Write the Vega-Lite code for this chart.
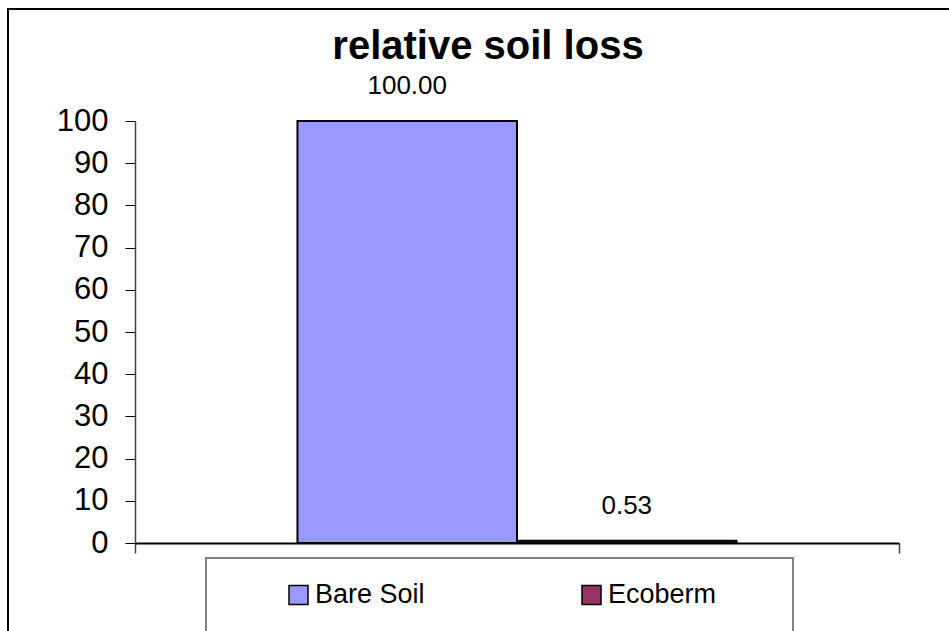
{
  "$schema": "https://vega.github.io/schema/vega-lite/v6.json",
  "width": 960,
  "height": 640,
  "padding": {"left": 8, "top": 9, "right": 0, "bottom": 0},
  "background": "white",
  "config": {
    "font": "Liberation Sans",
    "view": {"stroke": "black", "strokeWidth": 2},
    "axis": {"grid": false}
  },
  "title": {
    "text": "relative soil loss",
    "fontSize": 40,
    "fontWeight": "bold",
    "font": "Liberation Sans",
    "color": "black",
    "anchor": "middle",
    "baseline": "alphabetic",
    "offset": -90
  },
  "data": {
    "values": [
      {"series": "Bare Soil", "value": 100.0},
      {"series": "Ecoberm", "value": 0.53}
    ]
  },
  "layer": [
    {
      "encoding": {
        "x": {
          "field": "series",
          "type": "nominal",
          "scale": {"domain": ["Bare Soil", "Ecoberm"], "range": [127, 891], "paddingInner": 0, "paddingOuter": 0.74},
          "axis": null
        },
        "y": {
          "field": "value",
          "type": "quantitative",
          "scale": {"domain": [0, 100], "nice": false, "range": [534, 112]},
          "axis": {
            "values": [0, 10, 20, 30, 40, 50, 60, 70, 80, 90, 100],
            "offset": -127,
            "title": null,
            "labelFontSize": 31,
            "labelColor": "black",
            "labelFont": "Liberation Sans",
            "labelPadding": 17,
            "tickSize": 10,
            "tickColor": "black",
            "domainColor": "#404040",
            "domainWidth": 1.5,
            "labelFlush": false,
            "labelOverlap": false
          }
        }
      },
      "layer": [
        {
          "mark": {"type": "bar", "stroke": "black", "strokeWidth": 2},
          "encoding": {
            "color": {
              "field": "series",
              "type": "nominal",
              "scale": {"domain": ["Bare Soil", "Ecoberm"], "range": ["#9999FF", "#993366"]},
              "legend": {
                "orient": "none",
                "legendX": 198,
                "legendY": 549,
                "direction": "horizontal",
                "columns": 2,
                "title": "\u00a0",
                "titleOrient": "right",
                "titleFontSize": 10,
                "titlePadding": 57,
                "padding": 20,
                "clipHeight": 34,
                "strokeColor": "#808080",
                "fillColor": "white",
                "symbolType": "square",
                "symbolSize": 361,
                "symbolStrokeColor": "black",
                "symbolStrokeWidth": 1.5,
                "symbolOpacity": 1,
                "symbolOffset": 59,
                "labelFontSize": 27,
                "labelFont": "Liberation Sans",
                "labelColor": "black",
                "labelOffset": 3,
                "labelLimit": 400,
                "columnPadding": 94,
                "encode": {"legend": {"update": {"strokeWidth": {"value": 2}}}}
              }
            }
          }
        },
        {
          "mark": {"type": "text", "dy": -27, "baseline": "alphabetic", "fontSize": 26, "font": "Liberation Sans", "color": "black"},
          "encoding": {
            "text": {"field": "value", "type": "quantitative", "format": ".2f"}
          }
        }
      ]
    },
    {
      "mark": {"type": "rule", "opacity": 0},
      "encoding": {
        "x": {
          "datum": 0,
          "type": "quantitative",
          "scale": {"domain": [0, 1], "range": [127, 891], "nice": false, "zero": false},
          "axis": {
            "orient": "bottom",
            "values": [0, 1],
            "labels": false,
            "title": null,
            "offset": -106,
            "tickSize": 10,
            "tickColor": "#404040",
            "tickWidth": 1.5,
            "domainColor": "black",
            "domainWidth": 2
          }
        }
      }
    }
  ],
  "resolve": {"scale": {"x": "independent"}, "axis": {"x": "independent"}}
}
